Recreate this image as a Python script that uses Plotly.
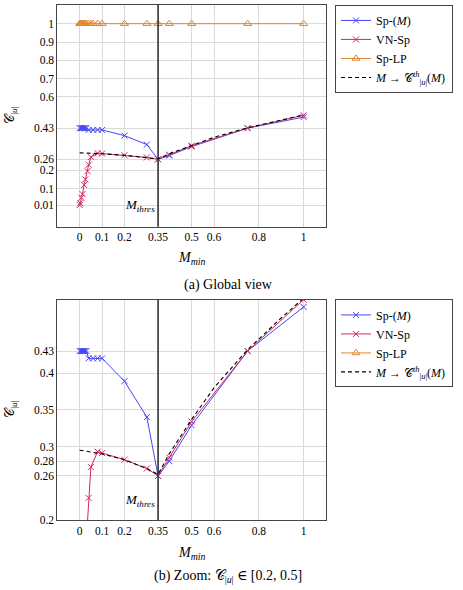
import plotly.graph_objects as go

# ---------------- data ----------------
M_sp = [0, 0.005, 0.01, 0.015, 0.02, 0.025, 0.03, 0.04, 0.06, 0.08, 0.1, 0.2, 0.3, 0.35, 0.4, 0.5, 0.75, 1]
C_sp = [0.43, 0.43, 0.43, 0.43, 0.43, 0.43, 0.43, 0.42, 0.42, 0.42, 0.42, 0.389, 0.34, 0.26, 0.28, 0.329, 0.43, 0.49]

M_vn = [0, 0.0025, 0.0075, 0.0125, 0.02, 0.025, 0.035, 0.04, 0.05, 0.08, 0.1, 0.2, 0.3, 0.35, 0.4, 0.5, 0.75, 1]
C_vn = [0.01, 0.02, 0.05, 0.07, 0.12, 0.15, 0.195, 0.23, 0.272, 0.293, 0.291, 0.282, 0.27, 0.26, 0.285, 0.334, 0.43, 0.5]

M_lp = [0, 0.0025, 0.005, 0.0075, 0.01, 0.015, 0.02, 0.025, 0.03, 0.04, 0.05, 0.06, 0.08, 0.1, 0.2, 0.3, 0.35, 0.4, 0.5, 0.75, 1]
C_lp = [1] * len(M_lp)

M_th = [0, 0.05, 0.1, 0.2, 0.3, 0.35, 0.4, 0.5, 0.6, 0.75, 0.9, 1]
C_th = [0.295, 0.293, 0.29, 0.282, 0.27, 0.262, 0.29, 0.337, 0.38, 0.432, 0.475, 0.502]

M_thres = 0.35
x_ticks = [0, 0.1, 0.2, 0.35, 0.5, 0.6, 0.8, 1]
y_ticks_a = [0.01, 0.1, 0.2, 0.26, 0.43, 0.6, 0.7, 0.8, 0.9, 1]
y_ticks_b = [0.2, 0.26, 0.28, 0.3, 0.35, 0.4, 0.43]

# ---------------- style ----------------
FONT = "'Liberation Serif', 'DejaVu Serif', serif"
BLUE = "rgb(70,70,245)"
RED = "rgb(205,45,95)"
ORANGE = "rgb(225,135,45)"
GRID = "rgb(218,218,218)"
AXIS = "rgb(70,70,70)"

W, H = 463, 590
xdom = [57.3 / W, 326 / W]
ydom_a = [1 - 229 / H, 1 - 4.7 / H]
ydom_b = [1 - 525.3 / H, 1 - 302.7 / H]

fig = go.Figure()

C_sym = "𝒞<sub>|<i>u</i>|</sub>"
names = ["Sp-(<i>M</i>)", "VN-Sp", "Sp-LP",
         "<i>M</i> → 𝒞<sup><i>th</i></sup><sub>|<i>u</i>|</sub>(<i>M</i>)"]

for xa, ya, leg in [("x", "y", "legend"), ("x2", "y2", "legend2")]:
    fig.add_trace(go.Scatter(x=M_sp, y=C_sp, mode="lines+markers", name=names[0],
                             line=dict(color=BLUE, width=1),
                             marker=dict(symbol="x-thin", size=6, line=dict(color=BLUE, width=1)),
                             xaxis=xa, yaxis=ya, legend=leg, cliponaxis=True))
    fig.add_trace(go.Scatter(x=M_vn, y=C_vn, mode="lines+markers", name=names[1],
                             line=dict(color=RED, width=1),
                             marker=dict(symbol="x-thin", size=6, line=dict(color=RED, width=1)),
                             xaxis=xa, yaxis=ya, legend=leg, cliponaxis=True))
    fig.add_trace(go.Scatter(x=M_lp, y=C_lp, mode="lines+markers", name=names[2],
                             line=dict(color=ORANGE, width=1),
                             marker=dict(symbol="triangle-up-open", size=7, line=dict(color=ORANGE, width=1)),
                             xaxis=xa, yaxis=ya, legend=leg, cliponaxis=True))
    fig.add_trace(go.Scatter(x=M_th, y=C_th, mode="lines", name=names[3],
                             line=dict(color="black", width=1.1, dash="4px,3px"),
                             xaxis=xa, yaxis=ya, legend=leg, cliponaxis=True))

axis_common = dict(showgrid=True, gridcolor=GRID, gridwidth=1, showline=True, linecolor=AXIS,
                   linewidth=1, mirror=True, zeroline=False, ticks="",
                   tickfont=dict(family=FONT, size=11.5, color="black"))

fig.update_layout(
    width=W, height=H, margin=dict(l=0, r=0, t=0, b=0),
    paper_bgcolor="white", plot_bgcolor="white",
    font=dict(family=FONT, size=13, color="black"),
    xaxis=dict(domain=xdom, range=[-0.1, 1.1], tickvals=x_ticks,
               ticktext=[str(v) for v in x_ticks], anchor="y", **axis_common),
    yaxis=dict(domain=ydom_a, range=[-0.108, 1.104], tickvals=y_ticks_a,
               ticktext=[str(v) for v in y_ticks_a], anchor="x", **axis_common),
    xaxis2=dict(domain=xdom, range=[-0.1, 1.1], tickvals=x_ticks,
                ticktext=[str(v) for v in x_ticks], anchor="y2", **axis_common),
    yaxis2=dict(domain=ydom_b, range=[0.2, 0.5], tickvals=y_ticks_b,
                ticktext=[str(v) for v in y_ticks_b], anchor="x2", **axis_common),
    legend=dict(x=335 / W, y=1 - 5 / H, xanchor="left", yanchor="top",
                bgcolor="white", bordercolor=AXIS, borderwidth=1,
                font=dict(family=FONT, size=12), itemwidth=30, tracegroupgap=0),
    legend2=dict(x=335 / W, y=1 - 302.5 / H, xanchor="left", yanchor="top",
                 bgcolor="white", bordercolor=AXIS, borderwidth=1,
                 font=dict(family=FONT, size=12), itemwidth=30, tracegroupgap=0),
    showlegend=True,
)

# threshold lines
for xr, yr in [("x", "y domain"), ("x2", "y2 domain")]:
    fig.add_shape(type="line", x0=M_thres, x1=M_thres, y0=0, y1=1, xref=xr, yref=yr,
                  line=dict(color="rgb(40,40,40)", width=1.5), layer="above")

ann_font = lambda s: dict(family=FONT, size=s, color="black")
anns = [
    dict(x=M_thres - 0.004, y=0.005, xref="x", yref="y", text="<i>M<sub>thres</sub></i>",
         xanchor="right", yanchor="middle", showarrow=False, font=ann_font(13)),
    dict(x=M_thres - 0.004, y=0.227, xref="x2", yref="y2", text="<i>M<sub>thres</sub></i>",
         xanchor="right", yanchor="middle", showarrow=False, font=ann_font(13)),
    dict(x=191.5 / W, y=1 - 261 / H, xref="paper", yref="paper", text="<i>M<sub>min</sub></i>",
         showarrow=False, xanchor="center", yanchor="middle", font=ann_font(14)),
    dict(x=191.5 / W, y=1 - 559 / H, xref="paper", yref="paper", text="<i>M<sub>min</sub></i>",
         showarrow=False, xanchor="center", yanchor="middle", font=ann_font(14)),
    dict(x=11 / W, y=1 - 117 / H, xref="paper", yref="paper", text=C_sym, textangle=-90,
         showarrow=False, xanchor="center", yanchor="middle", font=ann_font(13)),
    dict(x=11 / W, y=1 - 414 / H, xref="paper", yref="paper", text=C_sym, textangle=-90,
         showarrow=False, xanchor="center", yanchor="middle", font=ann_font(13)),
    dict(x=228 / W, y=1 - 288 / H, xref="paper", yref="paper", text="(a) Global view",
         showarrow=False, xanchor="center", yanchor="middle", font=ann_font(14)),
    dict(x=228 / W, y=1 - 582 / H, xref="paper", yref="paper",
         text="(b) Zoom: " + C_sym + " ∈ [0.2, 0.5]",
         showarrow=False, xanchor="center", yanchor="middle", font=ann_font(14)),
]
fig.update_layout(annotations=anns)

fig.write_html("out.html")
